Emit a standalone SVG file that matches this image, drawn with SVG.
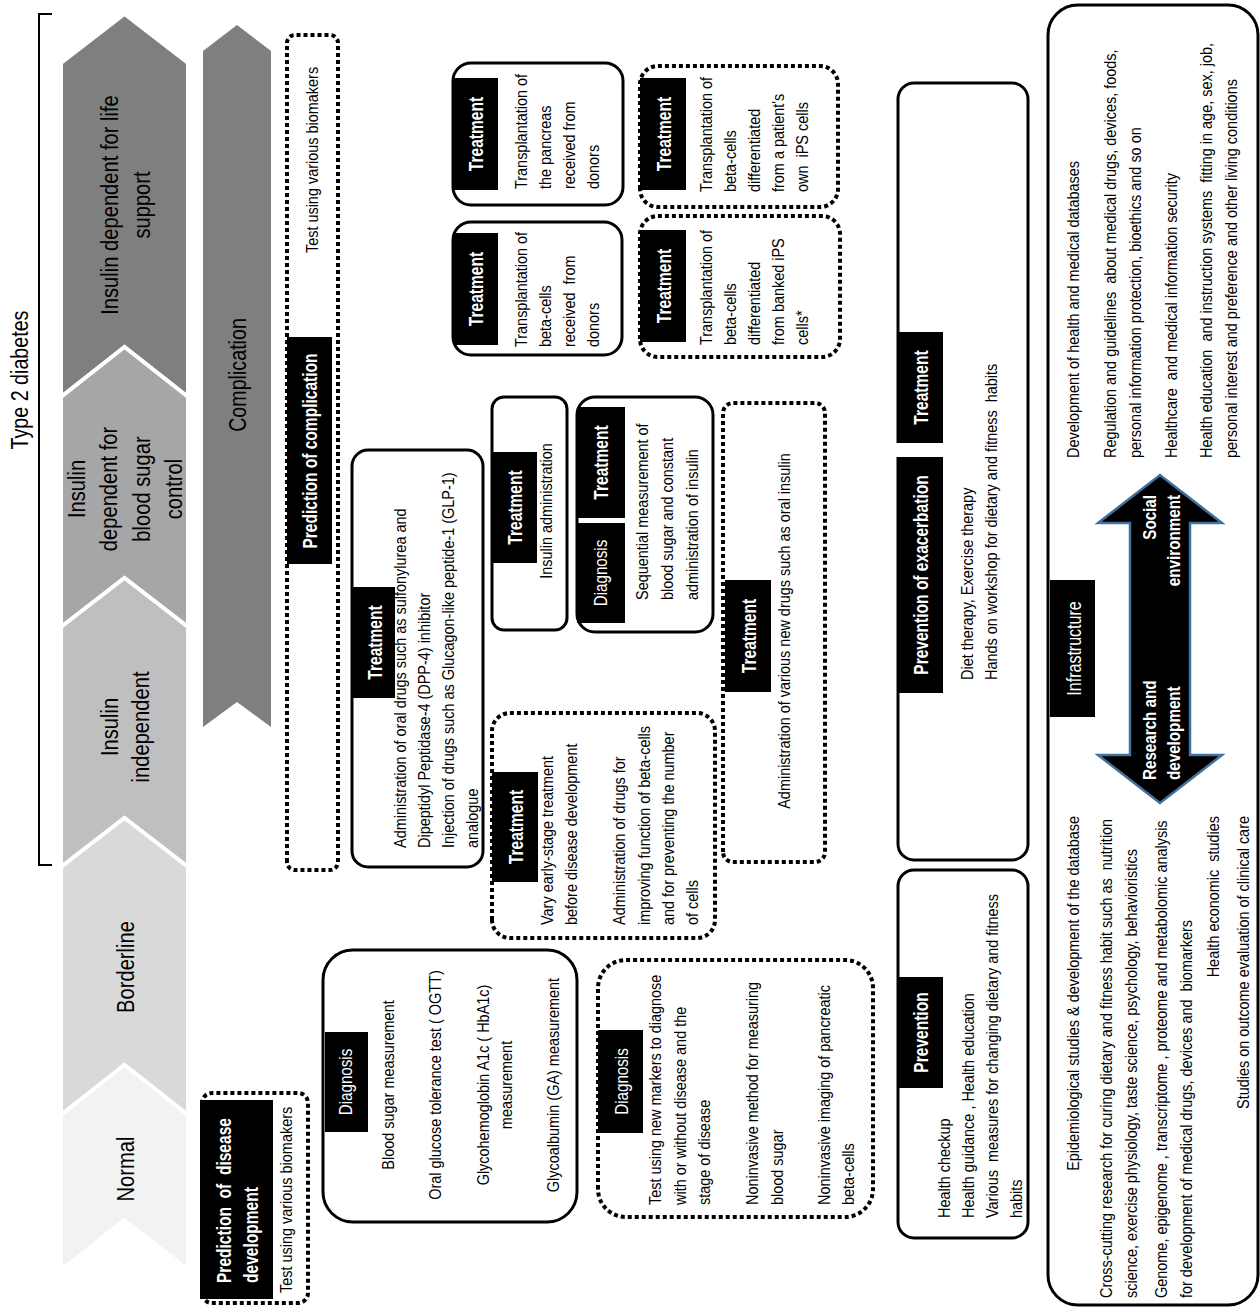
<svg xmlns="http://www.w3.org/2000/svg" width="1260" height="1307" viewBox="0 0 1260 1307">
<style>
text{font-family:"Liberation Sans Narrow","Liberation Sans",Arial,sans-serif;fill:#000}
.t{font-size:17px}
.c{font-size:24px}
.h{font-size:21px;font-weight:bold;fill:#fff}
.hd{font-size:19px;fill:#fff}
.ab{font-size:19px;font-weight:bold;fill:#fff}
.m{text-anchor:middle}
.e{text-anchor:end}
.solid{fill:#fff;stroke:#000;stroke-width:3}
.dot{fill:#fff;stroke:#000;stroke-width:4;stroke-dasharray:4 3}
.hdr{fill:#000}
.chev{stroke:#fff;stroke-width:4}
</style>
<rect width="1260" height="1307" fill="#fff"/>
<g transform="matrix(0,-1,1,0,0,1307)">
  <g id="stages">
    <polygon class="chev" fill="#7f7f7f" points="910,61 1244,61 1293,124.5 1244,188 910,188 960,124.5"/>
    <polygon class="chev" fill="#a6a6a6" points="680,61 910,61 960,124.5 910,188 680,188 729,124.5"/>
    <polygon class="chev" fill="#bfbfbf" points="440,61 680,61 729,124.5 680,188 440,188 489,124.5"/>
    <polygon class="chev" fill="#d9d9d9" points="192,61 440,61 489,124.5 440,188 192,188 242,124.5"/>
    <polygon class="chev" fill="#f2f2f2" points="37,61 192,61 242,124.5 192,188 37,188 87,124.5"/>
    <g transform="translate(138 0) scale(.84 1)"><text class="c m" x="0" y="134">Normal</text></g>
    <g transform="translate(340 0) scale(.84 1)"><text class="c m" x="0" y="134">Borderline</text></g>
    <g transform="translate(580 0) scale(.84 1)">
      <text class="c m" x="0" y="118">Insulin</text>
      <text class="c m" x="0" y="149">independent</text>
    </g>
    <g transform="translate(818 0) scale(.84 1)">
      <text class="c m" x="0" y="85">Insulin</text>
      <text class="c m" x="0" y="117">dependent for</text>
      <text class="c m" x="0" y="150">blood sugar</text>
      <text class="c m" x="0" y="182">control</text>
    </g>
    <g transform="translate(1102 0) scale(.84 1)">
      <text class="c m" x="0" y="118">Insulin dependent for life</text>
      <text class="c m" x="0" y="150">support</text>
    </g>
  </g>
  <g id="type2">
    <path d="M442,52 L442,39 L1293,39 L1293,52" fill="none" stroke="#000" stroke-width="2"/>
    <g transform="translate(927 0) scale(.82 1)"><text class="c m" x="0" y="28">Type 2 diabetes</text></g>
  </g>
  <g id="complication">
    <polygon fill="#7f7f7f" points="580,203 1256,203 1282,237 1256,271 580,271 605,237"/>
    <g transform="translate(932 0) scale(.82 1)"><text class="c m" x="0" y="246">Complication</text></g>
  </g>
  <g id="pred-complication">
    <rect class="dot" x="437" y="287" width="835" height="51" rx="8"/>
    <rect class="hdr" x="743" y="287" width="227" height="45"/>
    <g transform="translate(856 0) scale(.74 1)"><text class="h m" x="0" y="317">Prediction of complication</text></g>
    <g transform="translate(1147 0) scale(.85 1)"><text class="t m" x="0" y="318">Test using various biomakers</text></g>
  </g>
  <g id="treat-oral">
    <rect class="solid" x="440" y="352" width="417" height="131" rx="16"/>
    <g transform="translate(459 0) scale(.85 1)">
      <text class="t" x="0" y="406">Administration of oral drugs such as sulfonylurea and</text>
      <text class="t" x="0" y="430">Dipeptidyl Peptidase-4 (DPP-4) inhibitor</text>
      <text class="t" x="0" y="454">Injection of drugs such as Glucagon-like peptide-1 (GLP-1)</text>
      <text class="t" x="0" y="478">analogue</text>
    </g>
    <rect class="hdr" x="609" y="353" width="111" height="42"/>
    <g transform="translate(664.5 0) scale(.74 1)"><text class="h m" x="0" y="382">Treatment</text></g>
  </g>
  <g id="treat-insulin">
    <rect class="solid" x="677" y="492" width="233" height="75" rx="12"/>
    <rect class="hdr" x="744" y="492" width="111" height="45"/>
    <g transform="translate(799.5 0) scale(.74 1)"><text class="h m" x="0" y="522">Treatment</text></g>
    <g transform="translate(796 0) scale(.85 1)"><text class="t m" x="0" y="552">Insulin administration</text></g>
  </g>
  <g id="diag-treat-seq">
    <rect class="solid" x="675" y="577" width="235" height="136" rx="18"/>
    <rect class="hdr" x="684" y="577" width="100" height="48"/>
    <g transform="translate(734 0) scale(.8 1)"><text class="hd m" x="0" y="607">Diagnosis</text></g>
    <rect class="hdr" x="789" y="577" width="111" height="48"/>
    <g transform="translate(844.5 0) scale(.74 1)"><text class="h m" x="0" y="608">Treatment</text></g>
    <g transform="translate(707 0) scale(.85 1)">
      <text class="t" x="0" y="648">Sequential measurement of</text>
      <text class="t" x="0" y="673">blood sugar and constant</text>
      <text class="t" x="0" y="698">administration of insulin</text>
    </g>
  </g>
  <g id="treat-newdrugs">
    <rect class="dot" x="445" y="723" width="459" height="102" rx="10"/>
    <rect class="hdr" x="615" y="725" width="112" height="46"/>
    <g transform="translate(671 0) scale(.74 1)"><text class="h m" x="0" y="756">Treatment</text></g>
    <g transform="translate(676 0) scale(.85 1)"><text class="t m" x="0" y="790">Administration of various new drugs such as oral insulin</text></g>
  </g>
  <g id="treat-early">
    <rect class="dot" x="369" y="492" width="225" height="223" rx="18"/>
    <rect class="hdr" x="425" y="492" width="110" height="46"/>
    <g transform="translate(480 0) scale(.74 1)"><text class="h m" x="0" y="523">Treatment</text></g>
    <g transform="translate(382 0) scale(.85 1)">
      <text class="t" x="0" y="553">Vary early-stage treatment</text>
      <text class="t" x="0" y="577">before disease development</text>
      <text class="t" x="0" y="625">Administration of drugs for</text>
      <text class="t" x="0" y="650">improving function of beta-cells</text>
      <text class="t" x="0" y="674">and for preventing the number</text>
      <text class="t" x="0" y="698">of cells</text>
    </g>
  </g>
  <g id="diag-basic">
    <rect class="solid" x="85" y="323" width="272" height="254" rx="30"/>
    <rect class="hdr" x="175" y="325" width="100" height="43"/>
    <g transform="translate(225 0) scale(.8 1)"><text class="hd m" x="0" y="352">Diagnosis</text></g>
    <g transform="translate(222 0) scale(.85 1)">
      <text class="t m" x="0" y="394">Blood sugar measurement</text>
      <text class="t m" x="0" y="441">Oral glucose tolerance test ( OGTT)</text>
      <text class="t m" x="0" y="489">Glycohemoglobin A1c ( HbA1c)</text>
      <text class="t m" x="0" y="512">measurement</text>
      <text class="t m" x="0" y="559">Glycoalbumin (GA) measurement</text>
    </g>
  </g>
  <g id="diag-new">
    <rect class="dot" x="90" y="598" width="257" height="275" rx="28"/>
    <rect class="hdr" x="174" y="598" width="103" height="45"/>
    <g transform="translate(225.5 0) scale(.8 1)"><text class="hd m" x="0" y="628">Diagnosis</text></g>
    <g transform="translate(102 0) scale(.85 1)">
      <text class="t" x="0" y="661">Test using new markers to diagnose</text>
      <text class="t" x="0" y="686">with or without disease and the</text>
      <text class="t" x="0" y="710">stage of disease</text>
      <text class="t" x="0" y="758">Noninvasive method for measuring</text>
      <text class="t" x="0" y="783">blood sugar</text>
      <text class="t" x="0" y="830">Noninvasive imaging of pancreatic</text>
      <text class="t" x="0" y="854">beta-cells</text>
    </g>
  </g>
  <g id="pred-disease">
    <rect class="dot" x="4" y="202" width="210" height="106" rx="10"/>
    <rect class="hdr" x="8" y="200" width="199" height="73"/>
    <g transform="translate(24 0) scale(.74 1)">
      <text class="h" x="0" y="231" xml:space="preserve">Prediction  of  disease</text>
      <text class="h" x="0" y="258">development</text>
    </g>
    <g transform="translate(14 0) scale(.85 1)"><text class="t" x="0" y="292">Test using various biomakers</text></g>
  </g>
  <g id="treat-beta-donor">
    <rect class="solid" x="952" y="453" width="133" height="169" rx="18"/>
    <rect class="hdr" x="962" y="453" width="112" height="45"/>
    <g transform="translate(1018 0) scale(.74 1)"><text class="h m" x="0" y="483">Treatment</text></g>
    <g transform="translate(960 0) scale(.85 1)">
      <text class="t" x="0" y="527">Transplantation of</text>
      <text class="t" x="0" y="551">beta-cells</text>
      <text class="t" x="0" y="575" xml:space="preserve">received  from</text>
      <text class="t" x="0" y="599">donors</text>
    </g>
  </g>
  <g id="treat-pancreas">
    <rect class="solid" x="1102" y="453" width="142" height="170" rx="18"/>
    <rect class="hdr" x="1117" y="453" width="112" height="45"/>
    <g transform="translate(1173 0) scale(.74 1)"><text class="h m" x="0" y="483">Treatment</text></g>
    <g transform="translate(1118 0) scale(.85 1)">
      <text class="t" x="0" y="527">Transplantation of</text>
      <text class="t" x="0" y="551">the pancreas</text>
      <text class="t" x="0" y="575">received from</text>
      <text class="t" x="0" y="599">donors</text>
    </g>
  </g>
  <g id="treat-banked-ips">
    <rect class="dot" x="950" y="640" width="141" height="200" rx="18"/>
    <rect class="hdr" x="965" y="640" width="112" height="46"/>
    <g transform="translate(1021 0) scale(.74 1)"><text class="h m" x="0" y="671">Treatment</text></g>
    <g transform="translate(962 0) scale(.85 1)">
      <text class="t" x="0" y="712">Transplantation of</text>
      <text class="t" x="0" y="736">beta-cells</text>
      <text class="t" x="0" y="760">differentiated</text>
      <text class="t" x="0" y="784">from banked iPS</text>
      <text class="t" x="0" y="808">cells*</text>
    </g>
  </g>
  <g id="treat-own-ips">
    <rect class="dot" x="1100" y="640" width="141" height="198" rx="18"/>
    <rect class="hdr" x="1117" y="640" width="112" height="46"/>
    <g transform="translate(1173 0) scale(.74 1)"><text class="h m" x="0" y="671">Treatment</text></g>
    <g transform="translate(1115 0) scale(.85 1)">
      <text class="t" x="0" y="712">Transplantation of</text>
      <text class="t" x="0" y="736">beta-cells</text>
      <text class="t" x="0" y="760">differentiated</text>
      <text class="t" x="0" y="784">from a patient's</text>
      <text class="t" x="0" y="808" xml:space="preserve">own  iPS cells</text>
    </g>
  </g>
  <g id="prevent-exacerbation">
    <rect class="solid" x="447" y="898" width="777" height="130" rx="16"/>
    <rect fill="#fff" x="850" y="894" width="14" height="49"/>
    <rect class="hdr" x="864" y="897" width="111" height="46"/>
    <g transform="translate(919.5 0) scale(.74 1)"><text class="h m" x="0" y="928">Treatment</text></g>
    <rect class="hdr" x="614" y="897" width="236" height="46"/>
    <g transform="translate(732 0) scale(.74 1)"><text class="h m" x="0" y="928">Prevention of exacerbation</text></g>
    <g transform="translate(627 0) scale(.85 1)">
      <text class="t" x="0" y="973">Diet therapy, Exercise therapy</text>
      <text class="t" x="0" y="997" xml:space="preserve">Hands on workshop for dietary and fitness  habits</text>
    </g>
  </g>
  <g id="prevention">
    <rect class="solid" x="69" y="898" width="368" height="130" rx="16"/>
    <rect class="hdr" x="219" y="897" width="111" height="46"/>
    <g transform="translate(274.5 0) scale(.74 1)"><text class="h m" x="0" y="928">Prevention</text></g>
    <g transform="translate(89 0) scale(.85 1)">
      <text class="t" x="0" y="950">Health checkup</text>
      <text class="t" x="0" y="974">Health guidance , Health education</text>
      <text class="t" x="0" y="998" xml:space="preserve">Various  measures for changing dietary and fitness</text>
      <text class="t" x="0" y="1022">habits</text>
    </g>
  </g>
  <g id="infrastructure">
    <rect class="solid" x="2" y="1048" width="1300" height="210" rx="30"/>
    <rect class="hdr" x="590" y="1050" width="137" height="45"/>
    <g transform="translate(658.5 0) scale(.8 1)"><text class="hd m" x="0" y="1081" style="font-size:20px">Infrastructure</text></g>
    <g transform="translate(849 0) scale(.85 1)">
      <text class="t" x="0" y="1079">Development of health and medical databases</text>
      <text class="t" x="0" y="1116" xml:space="preserve">Regulation and guidelines  about medical drugs, devices, foods,</text>
      <text class="t" x="0" y="1141">personal information protection, bioethics and so on</text>
      <text class="t" x="0" y="1177" xml:space="preserve">Healthcare  and medical information security</text>
      <text class="t" x="0" y="1212" xml:space="preserve">Health education  and instruction systems  fitting in age, sex, job,</text>
      <text class="t" x="0" y="1237">personal interest and preference and other living conditions</text>
    </g>
    <g transform="translate(491 0) scale(.85 1)">
      <text class="t e" x="0" y="1079">Epidemiological studies &amp; development of the database</text>
      <text class="t e" x="0" y="1219" xml:space="preserve">Health economic  studies</text>
      <text class="t e" x="0" y="1249">Studies on outcome evaluation of clinical care</text>
    </g>
    <g transform="translate(9 0) scale(.85 1)">
      <text class="t" x="0" y="1112" xml:space="preserve">Cross-cutting research for curing dietary and fitness habit such as  nutrition</text>
      <text class="t" x="0" y="1137">science, exercise physiology, taste science, psychology, behavioristics</text>
      <text class="t" x="0" y="1167">Genome, epigenome , transcriptome , proteome and metabolomic analysis</text>
      <text class="t" x="0" y="1192" xml:space="preserve">for development of medical drugs, devices and  biomarkers</text>
    </g>
  </g>
  <g id="connectors">
    <polygon points="504,1160 552,1098 552,1130 784,1130 784,1098 832,1160 784,1222 784,1190 552,1190 552,1222" fill="#000" stroke="#41719c" stroke-width="2.5"/>
    <g transform="translate(527 0) scale(.8 1)">
      <text class="ab" x="0" y="1156">Research and</text>
      <text class="ab" x="0" y="1180">development</text>
    </g>
    <g transform="translate(812 0) scale(.8 1)">
      <text class="ab e" x="0" y="1156">Social</text>
      <text class="ab e" x="0" y="1180">environment</text>
    </g>
  </g>
</g>
</svg>
